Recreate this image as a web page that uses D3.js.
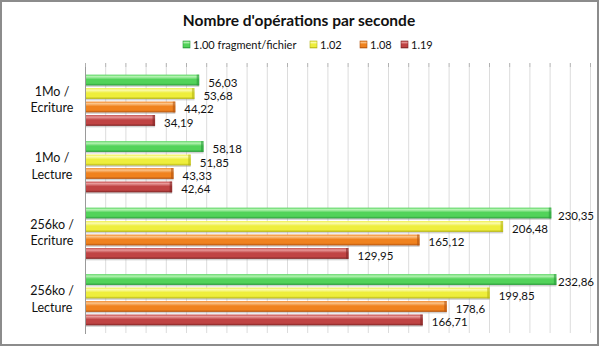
<!DOCTYPE html>
<html><head><meta charset="utf-8">
<script src="https://cdn.jsdelivr.net/npm/d3@7"></script>
<style>body{margin:0;background:#fff}svg{display:block;font-family:Lato,"Open Sans",sans-serif}</style>
</head><body><svg id="c" width="600" height="347"></svg>
<script>
const categories = [["1Mo /","Ecriture"],["1Mo /","Lecture"],["256ko /","Ecriture"],["256ko /","Lecture"]];
const seriesNames = ["1.00 fragment/fichier","1.02","1.08","1.19"];
const v100 = [56.03, 58.18, 230.35, 232.86];
const v102 = [53.68, 51.85, 206.48, 199.85];
const v108 = [44.22, 43.33, 165.12, 178.6];
const v119 = [34.19, 42.64, 129.95, 166.71];
const seriesValues = [v100, v102, v108, v119];
const xTicks = d3.range(0, 251, 10);
const colors = [
  {hi:"#b6f3b4", mid:"#52d35a", lo:"#2a9a3a"},
  {hi:"#fbfbb0", mid:"#eeee3c", lo:"#b4b414"},
  {hi:"#fbc48a", mid:"#f0821e", lo:"#b35410"},
  {hi:"#e89a9a", mid:"#c04444", lo:"#7e2424"}
];

const svg = d3.select("#c");
const defs = svg.append("defs");
colors.forEach((c,i)=>{
  const g = defs.append("linearGradient").attr("id","g"+i).attr("x1",0).attr("y1",0).attr("x2",0).attr("y2",1);
  g.append("stop").attr("offset","0%").attr("stop-color",c.mid);
  g.append("stop").attr("offset","18%").attr("stop-color",c.hi);
  g.append("stop").attr("offset","45%").attr("stop-color",c.mid);
  g.append("stop").attr("offset","80%").attr("stop-color",c.mid);
  g.append("stop").attr("offset","100%").attr("stop-color",c.lo);
});

// border
svg.append("rect").attr("x",1).attr("y",1).attr("width",597).attr("height",344)
  .attr("fill","#fff").attr("stroke","#8c8c8c").attr("stroke-width",2);

const x = d3.scaleLinear().domain([0,250]).range([85,590]);
const y0 = d3.scaleBand().domain(d3.range(categories.length)).range([67,333]).paddingInner(0.23).paddingOuter(0.115);
const y1 = d3.scaleBand().domain(d3.range(seriesNames.length)).range([0,y0.bandwidth()]).paddingInner(0.2);

// grid
svg.append("g").selectAll("line").data(xTicks.slice(1)).join("line")
  .attr("x1",d=>x(d)+0.5).attr("x2",d=>x(d)+0.5).attr("y1",67).attr("y2",333)
  .attr("stroke","#dcdcdc");
// top ticks
const topAxis = svg.append("g").attr("transform","translate(0,67)")
  .call(d3.axisTop(x).tickValues(xTicks).tickSize(4).tickFormat(""));
topAxis.select(".domain").remove();
topAxis.selectAll("line").attr("stroke","#b0b0b0");
// left axis
svg.append("line").attr("x1",x(0)+0.5).attr("x2",x(0)+0.5).attr("y1",67).attr("y2",334).attr("stroke","#9a9a9a");

// bars
const fmt = v => String(v).replace(".", ",");
categories.forEach((cat,ci)=>{
  seriesValues.forEach((vals,si)=>{
    const yy = y0(ci)+y1(si), h = y1.bandwidth(), w = x(vals[ci])-x(0);
    svg.append("rect").attr("x",x(0)+1).attr("y",yy+1.5).attr("width",w).attr("height",h)
      .attr("fill","#9a9a9a").attr("opacity",0.45);
    svg.append("rect").attr("x",x(0)+1).attr("y",yy).attr("width",w).attr("height",h)
      .attr("fill","url(#g"+si+")");
    svg.append("rect").attr("x",x(0)+w-1.5).attr("y",yy).attr("width",2.5).attr("height",h)
      .attr("fill",colors[si].lo).attr("opacity",0.6);
    const lab = svg.append("text").attr("x",x(vals[ci])+10).attr("y",yy+h/2+6.5)
      .attr("font-size",11.5).attr("fill","#111").text(fmt(vals[ci]));
    const tw = lab.node().getComputedTextLength();
    if (x(vals[ci])+10+tw > 594) lab.attr("x", 594-tw);
  });
  const cy = y0(ci)+y0.bandwidth()/2;
  const t = svg.append("text").attr("text-anchor","middle").attr("font-size",12.5).attr("fill","#111");
  t.append("tspan").attr("x",52).attr("y",cy-4.5).text(cat[0]);
  t.append("tspan").attr("x",52).attr("y",cy+12).text(cat[1]);
});

// title
svg.append("text").attr("x",299).attr("y",26).attr("text-anchor","middle")
  .attr("font-size",15.5).attr("font-weight","bold").attr("fill","#111").text("Nombre d'opérations par seconde");

// legend
const legX = [183, 310, 360, 401];
seriesNames.forEach((n,i)=>{
  svg.append("rect").attr("x",legX[i]).attr("y",41).attr("width",7).attr("height",7)
    .attr("fill","url(#g"+i+")").attr("stroke",colors[i].lo).attr("stroke-width",0.6);
  svg.append("text").attr("x",legX[i]+10).attr("y",49).attr("font-size",11).attr("fill","#111").text(n);
});
</script></body></html>
